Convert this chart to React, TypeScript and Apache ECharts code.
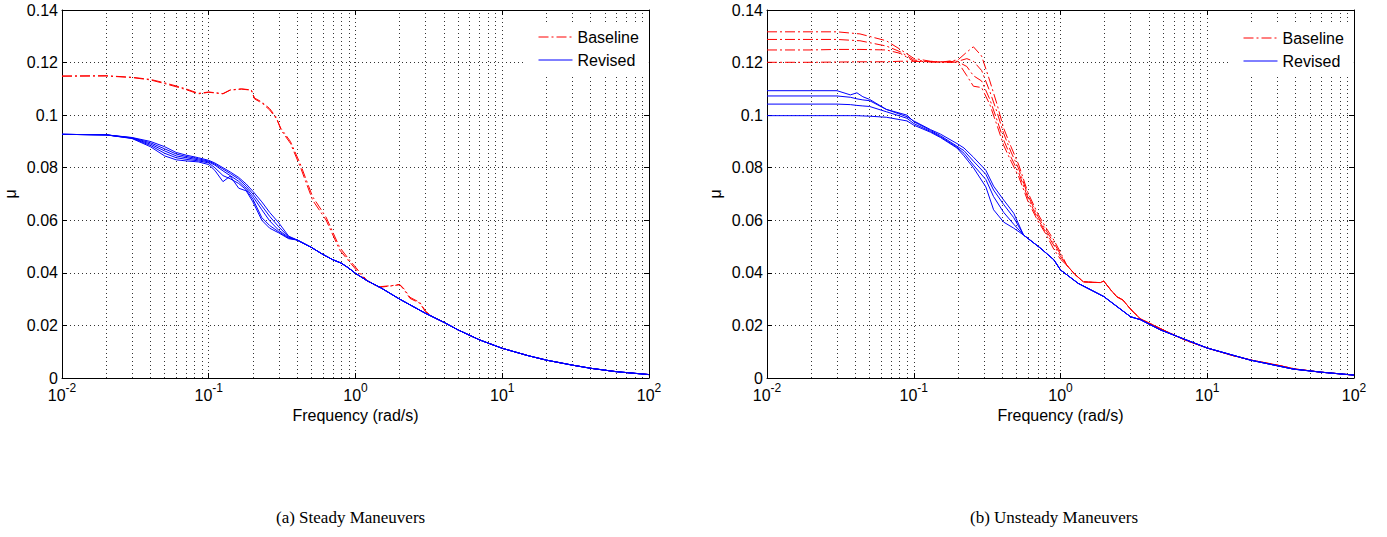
import React, { useEffect, useRef } from "react";
import * as echarts from "echarts";

// ---------- Data ----------
const yTicks = [0, 0.02, 0.04, 0.06, 0.08, 0.1, 0.12, 0.14];
const xDecades = [0.01, 0.1, 1, 10, 100];
const minorGridFreqs = [
  0.02, 0.03, 0.04, 0.05, 0.06, 0.07, 0.08, 0.09,
  0.2, 0.3, 0.4, 0.5, 0.6, 0.7, 0.8, 0.9,
  2, 3, 4, 5, 6, 7, 8, 9,
  20, 30, 40, 50, 60, 70, 80, 90,
];

// (a) Steady maneuvers - Baseline
const steadyBaseFreq = [0.01, 0.02, 0.03, 0.04, 0.05, 0.06, 0.07, 0.085, 0.1, 0.125, 0.14, 0.167, 0.195, 0.205, 0.23, 0.26, 0.29, 0.31, 0.36, 0.42, 0.51, 0.63, 0.78, 0.9, 1.06, 1.2, 1.45, 1.8, 2.0, 2.15, 2.35, 2.75, 3.0, 3.35, 4, 5, 7, 10, 15, 20, 30, 40, 60, 100];
const steadyBase1 = [0.1149, 0.1150, 0.1144, 0.1136, 0.1123, 0.1111, 0.1100, 0.1083, 0.1088, 0.1082, 0.1096, 0.1100, 0.1096, 0.1065, 0.1050, 0.1025, 0.0990, 0.0944, 0.0893, 0.0804, 0.0677, 0.0601, 0.0487, 0.0445, 0.0398, 0.0369, 0.0345, 0.0351, 0.0355, 0.0335, 0.0303, 0.0284, 0.0252, 0.0233, 0.0212, 0.0183, 0.0145, 0.0113, 0.0085, 0.0068, 0.0049, 0.0037, 0.0024, 0.0013];
const steadyBase2 = [0.1148, 0.1149, 0.1143, 0.1134, 0.1120, 0.1108, 0.1097, 0.1081, 0.1087, 0.1081, 0.1095, 0.1099, 0.1095, 0.1062, 0.1046, 0.1020, 0.0985, 0.0950, 0.0900, 0.0815, 0.0690, 0.0612, 0.0497, 0.0452, 0.0405, 0.0371, 0.0347, 0.0352, 0.0356, 0.0338, 0.0307, 0.0287, 0.0254, 0.0233, 0.0212, 0.0183, 0.0145, 0.0113, 0.0085, 0.0068, 0.0049, 0.0037, 0.0024, 0.0013];

// (a) Steady maneuvers - Revised (5 runs diverging, common tail)
const steadyRevHeadFreq = [0.01, 0.02, 0.03, 0.04, 0.05, 0.06, 0.07, 0.085, 0.1, 0.11, 0.125, 0.14, 0.16, 0.18, 0.2, 0.23, 0.26, 0.3, 0.35];
const steadyRev1 = [0.0927, 0.0925, 0.0915, 0.0900, 0.0880, 0.0858, 0.0848, 0.0838, 0.0828, 0.0818, 0.0800, 0.0784, 0.0763, 0.0738, 0.0710, 0.0670, 0.0630, 0.0590, 0.0540];
const steadyRev2 = [0.0927, 0.0925, 0.0914, 0.0895, 0.0872, 0.0852, 0.0843, 0.0834, 0.0825, 0.0814, 0.0795, 0.0778, 0.0757, 0.0730, 0.0700, 0.0655, 0.0615, 0.0575, 0.0537];
const steadyRev3 = [0.0927, 0.0925, 0.0913, 0.0890, 0.0864, 0.0845, 0.0838, 0.0830, 0.0822, 0.0810, 0.0788, 0.0770, 0.0748, 0.0722, 0.0690, 0.0640, 0.0598, 0.0562, 0.0535];
const steadyRev4 = [0.0927, 0.0925, 0.0912, 0.0885, 0.0855, 0.0838, 0.0832, 0.0826, 0.0818, 0.0800, 0.0770, 0.0758, 0.0740, 0.0716, 0.0680, 0.0610, 0.0580, 0.0556, 0.0532];
const steadyRev5 = [0.0927, 0.0925, 0.0911, 0.0880, 0.0845, 0.0830, 0.0826, 0.0822, 0.0812, 0.0790, 0.0747, 0.0768, 0.0722, 0.0712, 0.0670, 0.0600, 0.0570, 0.0552, 0.0530];
const steadyRevTailFreq = [0.4, 0.5, 0.6, 0.7, 0.8, 0.9, 1.0, 1.2, 1.5, 2, 3, 4, 5, 7, 10, 15, 20, 30, 40, 60, 100];
const steadyRevTail = [0.0525, 0.0497, 0.0470, 0.0450, 0.0437, 0.0418, 0.0398, 0.0370, 0.0342, 0.0300, 0.0246, 0.0212, 0.0183, 0.0145, 0.0113, 0.0085, 0.0068, 0.0049, 0.0037, 0.0024, 0.0013];

// (b) Unsteady maneuvers - Baseline (4 runs)
const unsteadyBaseHeadFreq = [0.01, 0.02, 0.03, 0.043, 0.065, 0.081, 0.1, 0.13, 0.16, 0.2, 0.23, 0.255, 0.29, 0.33, 0.37, 0.41, 0.46, 0.52, 0.6, 0.7, 0.8, 0.9, 1.0];
const unsteadyBase1 = [0.1317, 0.1317, 0.1317, 0.1309, 0.1283, 0.1250, 0.1216, 0.1205, 0.1203, 0.1210, 0.1240, 0.1260, 0.1225, 0.1130, 0.1040, 0.0950, 0.0880, 0.0810, 0.0705, 0.0625, 0.0570, 0.0525, 0.0478];
const unsteadyBase2 = [0.1288, 0.1288, 0.1288, 0.1283, 0.1263, 0.1241, 0.1210, 0.1203, 0.1203, 0.1205, 0.1215, 0.1205, 0.1170, 0.1090, 0.1010, 0.0930, 0.0860, 0.0795, 0.0695, 0.0615, 0.0560, 0.0515, 0.0470];
const unsteadyBase3 = [0.1248, 0.1248, 0.1250, 0.1250, 0.1248, 0.1235, 0.1205, 0.1203, 0.1202, 0.1203, 0.1185, 0.1150, 0.1130, 0.1060, 0.0980, 0.0905, 0.0840, 0.0780, 0.0685, 0.0605, 0.0552, 0.0505, 0.0462];
const unsteadyBase4 = [0.1201, 0.1201, 0.1202, 0.1203, 0.1203, 0.1205, 0.1205, 0.1203, 0.1200, 0.1202, 0.1150, 0.1110, 0.1105, 0.1040, 0.0960, 0.0885, 0.0825, 0.0765, 0.0672, 0.0598, 0.0545, 0.0490, 0.0452];
const unsteadyBaseTailFreq = [1.1, 1.25, 1.43, 1.65, 1.87, 1.97, 2.2, 2.42, 2.66, 3.0, 3.5, 5, 7, 10, 15, 20, 30, 40, 60, 100];
const unsteadyBaseTail = [0.0430, 0.0395, 0.0366, 0.0364, 0.0363, 0.0369, 0.0335, 0.0309, 0.0297, 0.0262, 0.0225, 0.0183, 0.0145, 0.0114, 0.0085, 0.0068, 0.0049, 0.0034, 0.0022, 0.0011];

// (b) Unsteady maneuvers - Revised (4 runs)
const unsteadyRevHeadFreq = [0.01, 0.02, 0.03, 0.037, 0.041, 0.045, 0.05, 0.065, 0.09, 0.1, 0.13, 0.152, 0.197, 0.22, 0.255, 0.31, 0.35, 0.41, 0.48];
const unsteadyRev1 = [0.1093, 0.1093, 0.1093, 0.1077, 0.1085, 0.1070, 0.1060, 0.1022, 0.0994, 0.0978, 0.0945, 0.0928, 0.0892, 0.0875, 0.0840, 0.0790, 0.0730, 0.0677, 0.0627];
const unsteadyRev2 = [0.1073, 0.1073, 0.1073, 0.1068, 0.1062, 0.1058, 0.1055, 0.1022, 0.1000, 0.0975, 0.0942, 0.0922, 0.0882, 0.0865, 0.0825, 0.0775, 0.0715, 0.0660, 0.0610];
const unsteadyRev3 = [0.1042, 0.1042, 0.1042, 0.1040, 0.1037, 0.1035, 0.1033, 0.1013, 0.0988, 0.0968, 0.0938, 0.0918, 0.0878, 0.0855, 0.0810, 0.0755, 0.0690, 0.0630, 0.0585];
const unsteadyRev4 = [0.0998, 0.0998, 0.0998, 0.0998, 0.0998, 0.0997, 0.0996, 0.0992, 0.0978, 0.0962, 0.0935, 0.0915, 0.0875, 0.0845, 0.0800, 0.0727, 0.0640, 0.0593, 0.0570];
const unsteadyRevTailFreq = [0.56, 0.73, 0.9, 1.0, 1.32, 1.97, 3.0, 3.5, 4.8, 10, 19.7, 38.5, 60, 100];
const unsteadyRevTail = [0.0544, 0.0494, 0.0450, 0.0411, 0.0360, 0.0310, 0.0233, 0.0222, 0.0183, 0.0114, 0.0068, 0.0034, 0.0022, 0.0011];

const captions = ["(a) Steady Maneuvers", "(b) Unsteady Maneuvers"];

// ---------- Helpers ----------
const RED = "#ff0000";
const BLUE = "#0000ff";
const DASHDOT = [10, 3, 2, 3];
const GRID_DOT = [1, 3];
const SANS = "'Liberation Sans', Arial, Helvetica, sans-serif";

function pairs(fr: number[], vals: number[]): number[][] {
  return fr.map((f, i) => [f, vals[i]]);
}

function lineSeries(name: string, data: number[][], color: string, dashed: boolean, axis: number) {
  return {
    type: "line",
    name,
    xAxisIndex: axis,
    yAxisIndex: axis,
    data,
    symbol: "none",
    smooth: false,
    silent: true,
    z: dashed ? 2 : 3,
    lineStyle: { color, width: 1, type: dashed ? DASHDOT : "solid" },
    itemStyle: { color },
  };
}

function gridSeries(axis: number) {
  return {
    type: "line",
    name: "grid" + axis,
    xAxisIndex: axis,
    yAxisIndex: axis,
    data: [],
    symbol: "none",
    silent: true,
    z: 1,
    markLine: {
      silent: true,
      symbol: "none",
      z: 1,
      label: { show: false },
      lineStyle: { color: "#333", width: 1, type: GRID_DOT },
      data: minorGridFreqs.map((f) => ({ xAxis: f })),
    },
  };
}

function bottomX(gridIndex: number, showName: boolean) {
  return {
    type: "log",
    logBase: 10,
    gridIndex,
    min: xDecades[0],
    max: xDecades[xDecades.length - 1],
    position: "bottom",
    name: showName ? "Frequency (rad/s)" : "",
    nameLocation: "middle",
    nameGap: 26,
    nameTextStyle: { fontSize: 16, color: "#000", fontFamily: SANS },
    axisLine: { show: true, onZero: false, lineStyle: { color: "#000", width: 1 } },
    axisTick: { show: true, inside: true, length: 5, lineStyle: { color: "#000" } },
    axisLabel: {
      margin: 4,
      color: "#000",
      fontFamily: SANS,
      formatter: (v: number) => `{b|10}{s|${Math.round(Math.log10(v))}}`,
      rich: {
        b: { fontSize: 16, fontFamily: SANS, color: "#000", verticalAlign: "bottom" },
        s: { fontSize: 12, fontFamily: SANS, color: "#000", verticalAlign: "bottom", padding: [0, 0, 9, 0] },
      },
    },
    splitLine: { show: true, lineStyle: { color: "#333", width: 1, type: GRID_DOT } },
  };
}

function topX(gridIndex: number) {
  return {
    type: "log",
    logBase: 10,
    gridIndex,
    min: xDecades[0],
    max: xDecades[xDecades.length - 1],
    position: "top",
    axisLine: { show: true, onZero: false, lineStyle: { color: "#000", width: 1 } },
    axisTick: { show: true, inside: true, length: 5, lineStyle: { color: "#000" } },
    axisLabel: { show: false },
    splitLine: { show: false },
  };
}

function leftY(gridIndex: number) {
  return {
    type: "value",
    gridIndex,
    min: yTicks[0],
    max: yTicks[yTicks.length - 1],
    interval: yTicks[1] - yTicks[0],
    position: "left",
    name: "\u03bc",
    nameLocation: "middle",
    nameGap: 44,
    nameRotate: 90,
    nameTextStyle: { fontSize: 16, color: "#000", fontFamily: SANS },
    axisLine: { show: true, onZero: false, lineStyle: { color: "#000", width: 1 } },
    axisTick: { show: true, inside: true, length: 5, lineStyle: { color: "#000" } },
    axisLabel: {
      margin: 4,
      color: "#000",
      fontSize: 16,
      fontFamily: SANS,
      formatter: (v: number) => String(Math.round(v * 100) / 100),
    },
    splitLine: { show: true, lineStyle: { color: "#333", width: 1, type: GRID_DOT } },
  };
}

function rightY(gridIndex: number) {
  return {
    type: "value",
    gridIndex,
    min: yTicks[0],
    max: yTicks[yTicks.length - 1],
    interval: yTicks[1] - yTicks[0],
    position: "right",
    axisLine: { show: true, onZero: false, lineStyle: { color: "#000", width: 1 } },
    axisTick: { show: true, inside: true, length: 5, lineStyle: { color: "#000" } },
    axisLabel: { show: false },
    splitLine: { show: false },
  };
}

function legendAt(left: number, top: number) {
  return {
    data: ["Baseline", "Revised"],
    orient: "vertical",
    left,
    top,
    backgroundColor: "#fff",
    borderWidth: 0,
    padding: [6, 10, 6, 15],
    itemWidth: 34,
    itemHeight: 14,
    itemGap: 7,
    selectedMode: false,
    itemStyle: { opacity: 0 },
    lineStyle: { opacity: 1, width: 1 },
    textStyle: { fontSize: 16, color: "#000", fontFamily: SANS, padding: [0, 0, 0, 0] },
    z: 10,
  };
}

export default function App() {
  const ref = useRef<HTMLDivElement>(null);

  useEffect(() => {
    if (!ref.current) return;
    const chart = echarts.init(ref.current, undefined, { renderer: "svg" });

    const series: any[] = [
      gridSeries(0),
      gridSeries(2),
      // (a) baseline
      lineSeries("Baseline", pairs(steadyBaseFreq, steadyBase1), RED, true, 0),
      lineSeries("Baseline", pairs(steadyBaseFreq, steadyBase2), RED, true, 0),
      // (a) revised
      ...[steadyRev1, steadyRev2, steadyRev3, steadyRev4, steadyRev5].map((h) =>
        lineSeries(
          "Revised",
          pairs(steadyRevHeadFreq.concat(steadyRevTailFreq), h.concat(steadyRevTail)),
          BLUE,
          false,
          0
        )
      ),
      // (b) baseline
      ...[unsteadyBase1, unsteadyBase2, unsteadyBase3, unsteadyBase4].map((h) =>
        lineSeries(
          "Baseline",
          pairs(unsteadyBaseHeadFreq.concat(unsteadyBaseTailFreq), h.concat(unsteadyBaseTail)),
          RED,
          true,
          2
        )
      ),
      // (b) revised
      ...[unsteadyRev1, unsteadyRev2, unsteadyRev3, unsteadyRev4].map((h) =>
        lineSeries(
          "Revised",
          pairs(unsteadyRevHeadFreq.concat(unsteadyRevTailFreq), h.concat(unsteadyRevTail)),
          BLUE,
          false,
          2
        )
      ),
    ];

    const option: any = {
      animation: false,
      backgroundColor: "#fff",
      grid: [
        { left: 62, top: 10, width: 587, height: 368, show: false },
        { left: 767, top: 10, width: 587, height: 368, show: false },
      ],
      xAxis: [bottomX(0, true), topX(0), bottomX(1, true), topX(1)],
      yAxis: [leftY(0), rightY(0), leftY(1), rightY(1)],
      legend: [legendAt(523, 23), legendAt(1228, 24)],
      series,
      graphic: [
        {
          type: "text",
          left: 356 - 80,
          top: 509,
          style: { text: captions[0], fontSize: 17, fontFamily: "'Liberation Serif', 'DejaVu Serif', serif", fill: "#000" },
        },
        {
          type: "text",
          left: 1062 - 92,
          top: 509,
          style: { text: captions[1], fontSize: 17, fontFamily: "'Liberation Serif', 'DejaVu Serif', serif", fill: "#000" },
        },
      ],
    };
    chart.setOption(option);
    return () => chart.dispose();
  }, []);

  return (
    <div
      ref={ref}
      style={{ position: "fixed", left: 0, top: 0, width: 1387, height: 537, background: "#fff" }}
    />
  );
}
